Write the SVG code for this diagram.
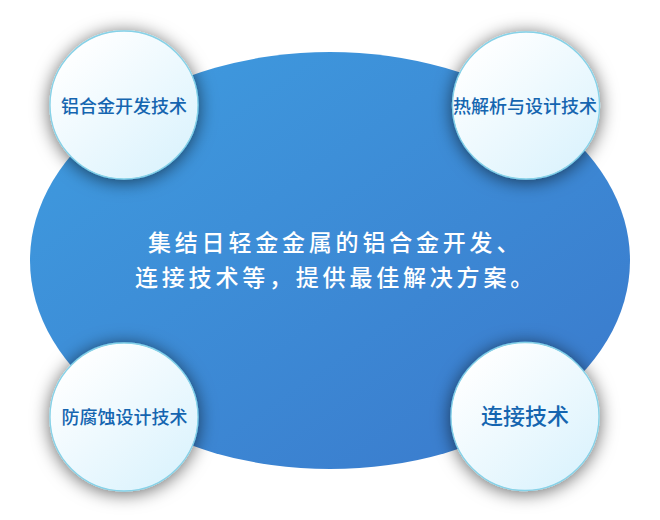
<svg xmlns="http://www.w3.org/2000/svg" width="660" height="520" viewBox="0 0 660 520">
<style>
.lbl{font-family:"Noto Sans CJK SC","Noto Sans",sans-serif;fill:#1565b0;text-anchor:middle;font-weight:500}
.main{font-family:"Noto Sans CJK SC","Noto Sans",sans-serif;fill:#ffffff;font-size:23px;letter-spacing:3.8px;font-weight:500}
.bubble{fill:url(#cg);stroke:#86d2e8;stroke-width:1.3;filter:url(#sh)}
</style>
<defs>
<linearGradient id="bg" x1="0" y1="0" x2="1" y2="1">
<stop offset="0" stop-color="#3f9de0"/>
<stop offset="1" stop-color="#3a78cb"/>
</linearGradient>
<linearGradient id="cg" x1="0.15" y1="0.1" x2="0.85" y2="0.9">
<stop offset="0" stop-color="#ffffff"/>
<stop offset="1" stop-color="#dcf3fd"/>
</linearGradient>
<filter id="sh" x="-40%" y="-40%" width="180%" height="180%">
<feDropShadow dx="0" dy="2" stdDeviation="9" flood-color="#000" flood-opacity="0.6"/>
</filter>
</defs>
<g id="center">
<ellipse cx="330" cy="260.5" rx="300" ry="208.5" fill="url(#bg)"/>
<text class="main" x="148" y="251">集结日轻金金属的铝合金开发、</text>
<text class="main" x="135" y="286">连接技术等，提供最佳解决方案。</text>
</g>
<g id="connectors"></g>
<g id="n1">
<circle class="bubble" cx="124" cy="105" r="74"/>
<text class="lbl" x="124" y="112.5" font-size="18">铝合金开发技术</text>
</g>
<g id="n2">
<circle class="bubble" cx="526" cy="105.5" r="73.5"/>
<text class="lbl" x="525" y="112.5" font-size="18">热解析与设计技术</text>
</g>
<g id="n3">
<circle class="bubble" cx="124" cy="417" r="74"/>
<text class="lbl" x="124.5" y="423.5" font-size="18">防腐蚀设计技术</text>
</g>
<g id="n4">
<circle class="bubble" cx="525" cy="416.5" r="74"/>
<text class="lbl" x="525" y="424" font-size="22">连接技术</text>
</g>
</svg>
